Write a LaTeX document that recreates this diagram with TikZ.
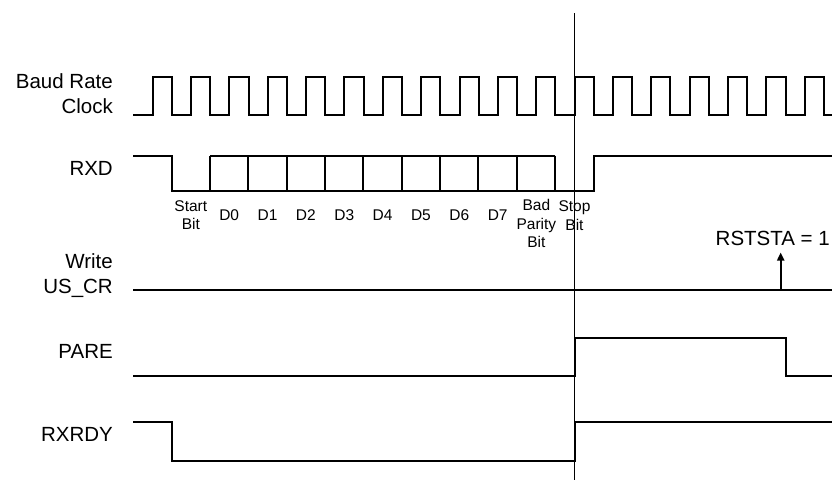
\documentclass[tikz,border=0pt]{standalone}
\usepackage{fontspec}
\setmainfont{Liberation Sans}
\usepackage{tikz}
\usetikzlibrary{positioning, calc, arrows.meta}
\tikzset{
	sigtext/.style={font=\fontsize{20.5}{25}\selectfont, align=right, inner sep=0pt, anchor=east}
}
\tikzset{
	bittext/.style={font=\fontsize{15.5}{18.5}\selectfont, align=center, inner sep=0pt}
}
\tikzset{
  wave/.style={line width=2pt, line join=miter},
  marker/.style={line width=0.9pt}
}
\newcommand{\tper}{38.35}

\begin{document}
\begin{tikzpicture}[x=1pt, y=-1pt]
      \useasboundingbox (0,0) rectangle (832,482);
      \clip (0,0) rectangle (832,482);
      % signal names
      \node[sigtext] (baud) at (113,93.3) {Baud Rate\\Clock};
      \node[sigtext] (rxd) at (113,168.3) {RXD};
      \node[sigtext] (uscr) at (113,276) {Write\\US\_CR};
      \node[sigtext] (pare) at (113,351) {PARE};
      \node[sigtext] (rxrdy) at (113,434.7) {RXRDY};
      % baud rate clock
      \draw[wave] (133.3,115) \foreach \k in {0,...,17} {
          -- ({152.7+\k*\tper},115) -- ({152.7+\k*\tper},77.3)
          -- ({171.9+\k*\tper},77.3) -- ({171.9+\k*\tper},115)
        } -- (840,115);
      % rxd frame
      \draw[wave] (133.3,155.7) -| (171.7,191) -| (593.5,155.7) -- (840,155.7);
      \draw[wave] (210,155.7) -- (555.2,155.7);
      \foreach \j in {0,...,9}
        \draw[wave] ({210+\j*\tper},155.7) -- ({210+\j*\tper},191);
      \node[bittext, anchor=north] (start) at (190.8,200) {Start\\Bit};
      \foreach \j in {0,...,7}
        \node[bittext] (d\j) at ({229.2+\j*\tper},215.5) {D\j};
      \node[bittext, anchor=north] (parity) at (536.4,199.5) {Bad\\Parity\\Bit};
      \node[bittext, anchor=north] (stop) at (574.5,200.5) {Stop\\Bit};
      % write us_cr
      \draw[wave] (133.3,290) -- (840,290);
      \node[font=\fontsize{20.5}{25}\selectfont, inner sep=0pt, anchor=base west] (rststa) at (715.5,245) {RSTSTA = 1};
      \coordinate (rsttail) at (780.7,290);
      \coordinate (rsthead) at (780.7,252.5);
      \draw[wave, -{Triangle[length=8pt, width=7pt]}] (rsttail) -- (rsthead);
      % pare and rxrdy
      \draw[wave] (133.3,376) -| (574.5,338.3) -| (785.5,376) -- (840,376);
      \draw[wave] (133.3,422.3) -| (171.7,460.7) -| (574.5,422.3) -- (840,422.3);
      \draw[marker] (574.5,13.3) -- (574.5,480);
    \end{tikzpicture}
\end{document}
